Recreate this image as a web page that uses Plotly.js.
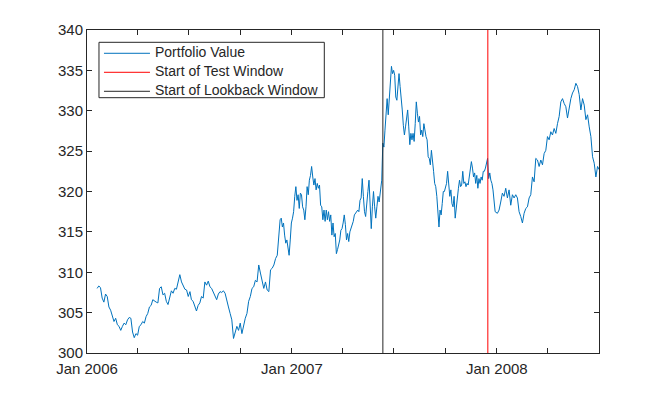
<!DOCTYPE html>
<html>
<head>
<meta charset="utf-8">
<script src="https://cdn.plot.ly/plotly-3.0.1.min.js"></script>
<style>html,body{margin:0;padding:0;background:#fff;}#chart{width:661px;height:398px;}</style>
</head>
<body>
<div id="chart"></div>
<script>
// ---- Data ----
// Portfolio value, stored in consecutive segments: each segment has a start date,
// a sampling step in days, and the sampled values.
const segAStart = '2006-01-19', segAStep = 3.007;
const segAValues = [308.0,308.3,308.1,306.8,306.3,307.3,307.0,305.7,305.3,304.7,303.9,304.3,303.5,303.3,302.8,303.3,303.7,303.5,304.1,304.4,304.3,302.6,301.9,302.4,302.2,303.3,303.5,303.9,303.7,304.5,304.9,305.7,305.9,306.6,306.4,306.3,306.2,308.0,308.2,307.2,307.4,306.4,306.0,306.8,307.7,307.4,308.0,307.9,309.0,309.7,308.8,308.3,307.9,307.8,307.0,307.6];

const segBStart = '2006-07-06', segBStep = 2.998;
const segBValues = [306.6,306.4,305.9,305.2,305.9,306.2,307.0,306.8,308.8,308.4,308.9,308.2,308.0,307.6,307.0,306.6,307.3,307.6,307.5,307.7,307.4,306.4,305.7,304.9,304.1,301.8,302.6,303.3,302.8,303.7,302.4,303.5,304.3,304.9,306.4,307.0,308.0,308.2,309.0,308.8,310.9,309.9,308.8,308.0,308.8,307.8,307.6,310.3,310.5,310.9,311.7,312.1];

const segCStart = '2006-12-11', segCStep = 2.004;
const segCValues = [316.5,316.7,315.6,316.1,314.6,313.6,314.0,312.8,312.1,314.0,316.1,316.7,317.5,319.4,320.6,318.9,319.6,317.9,319.8,319.6,318.1,317.7,316.5,318.1,320.6,319.6,321.4,322.0,323.1,321.8,320.8,321.6,320.2,321.0,320.4,320.8,318.3,318.1,316.5,317.7,316.3,317.7,316.5,317.5,316.3,317.1,314.6,316.1,314.4,314.8,312.3,312.8,313.4,314.0,315.2,315.4,316.1,317.1,315.9,314.0,314.8,313.8,315.0,315.4,315.9,316.3,317.1,317.3,317.5,317.7,317.5,318.9,319.2,321.6,319.4,317.5,316.9,318.1,320.0,321.4,317.5,315.4,318.1,320.0,318.1,316.7,318.1,319.4,318.7,319.6];

const segDStart = '2007-06-10', segDStep = 1.924;
const segDValues = [321.4,326.0,325.5,327.6,329.3,331.5,329.5,331.3,333.8,335.5,334.6,335.0,334.4,331.7,331.3,333.2,334.6,333.0,330.9,330.1,328.2,327.0,328.0,329.3,330.1,328.0,325.8,327.2,326.4,327.2,326.2,328.4,331.1,329.7,328.6,329.3,327.0,327.6,326.8,328.4,327.4,326.8,326.4,324.3,324.1,323.3,325.1,324.1,322.5,321.0,320.6,319.4,317.3,315.6,317.7,317.1,318.5,320.0,320.0,320.4,321.0,322.5,320.6,319.4,320.2,318.5,318.1,319.4,316.7,318.1,319.8,320.4,321.4,320.6,320.8,322.5,321.0,321.2,320.6,321.0,320.8,322.0,322.7,323.7,322.9,321.8,322.3,321.0,322.0,320.4,321.6,321.0,321.8,321.4,322.5,322.5,322.9,323.5,324.1,321.6,322.3,321.4,321.0,320.2,318.5,317.5];

const segEStart = '2008-01-02', segEStep = 2.974;
const segEValues = [317.3,317.7,318.7,319.8,319.4,320.4,319.2,320.2,318.3,319.6,319.2,319.6,319.2,317.5,316.9,316.1,317.3,317.9,318.1,319.2,319.6,321.8,321.2,324.1,323.9,323.1,323.9,323.3,324.7,325.1,326.8,326.4,327.4,327.0,327.8,327.2,328.4,329.3,331.1,331.5,330.9,330.5,329.1,330.5,331.5,332.2,332.6,333.4,333.0,332.0,330.1,331.5,330.7,328.9,329.5,328.0,326.8,324.3,323.5,321.8,323.1,322.7];

const testStartDate = '2007-12-16';
const lookbackStartDate = '2007-06-12';

const seriesNames = ['Portfolio Value', 'Start of Test Window', 'Start of Lookback Window'];
const yRange = [300, 340];
const xRange = ['2006-01-01', '2008-07-01'];
const xTickVals = ['2006-01-01','2006-04-01','2006-07-01','2006-10-01','2007-01-01','2007-04-01','2007-07-01','2007-10-01','2008-01-01','2008-04-01','2008-07-01'];
const xTickText = ['Jan 2006','','','','Jan 2007','','','','Jan 2008','',''];

// ---- Build series ----
const DAY = 86400000;
function buildSeg(start, step, vals, xs, ys) {
  const t0 = Date.parse(start + 'T00:00:00Z');
  vals.forEach((v, i) => {
    const d = new Date(t0 + Math.round(i * step * DAY));
    xs.push(d.toISOString().slice(0, 19).replace('T', ' '));
    ys.push(v);
  });
}
const px = [], py = [];
buildSeg(segAStart, segAStep, segAValues, px, py);
buildSeg(segBStart, segBStep, segBValues, px, py);
buildSeg(segCStart, segCStep, segCValues, px, py);
buildSeg(segDStart, segDStep, segDValues, px, py);
buildSeg(segEStart, segEStep, segEValues, px, py);

const axisColor = '#262626';
const fontFam = '"Liberation Sans", Arial, Helvetica, sans-serif';
const legName = s => '<span style="font-size:14px">' + s + '</span>';

const traces = [
  {x: px, y: py, type: 'scatter', mode: 'lines', name: legName(seriesNames[0]),
   line: {color: '#0072BD', width: 1}},
  {x: [testStartDate, testStartDate], y: yRange, type: 'scatter', mode: 'lines', name: legName(seriesNames[1]),
   line: {color: '#FF0000', width: 1}},
  {x: [lookbackStartDate, lookbackStartDate], y: yRange, type: 'scatter', mode: 'lines', name: legName(seriesNames[2]),
   line: {color: '#262626', width: 1}}
];

const layout = {
  width: 661, height: 398,
  margin: {l: 87, r: 62, t: 30, b: 45, pad: 0},
  paper_bgcolor: '#fff', plot_bgcolor: '#fff',
  font: {family: fontFam, size: 15, color: axisColor},
  showlegend: true,
  legend: {x: 0.0234, y: 0.9728, xanchor: 'left', yanchor: 'top',
    bgcolor: 'rgba(0,0,0,0)', borderwidth: 0,
    font: {family: fontFam, size: 10.5, color: axisColor},
    itemwidth: 46, tracegroupgap: 0},
  // legend frame (MATLAB-style box)
  shapes: [{type: 'rect', xref: 'paper', yref: 'paper', x0: 0.0234, x1: 0.4635, y0: 0.7904, y1: 0.9619,
    layer: 'above', fillcolor: '#fff', line: {color: axisColor, width: 1}}],
  xaxis: {type: 'date', range: xRange, tickmode: 'array', tickvals: xTickVals, ticktext: xTickText,
    showgrid: false, zeroline: false, showline: true, linecolor: axisColor, linewidth: 1,
    mirror: 'ticks', ticks: 'inside', ticklen: 5, tickcolor: axisColor, tickwidth: 1,
    ticklabelstandoff: 2,
    tickfont: {family: fontFam, size: 15, color: axisColor}},
  yaxis: {range: yRange, tickmode: 'linear', tick0: 300, dtick: 5,
    showgrid: false, zeroline: false, showline: true, linecolor: axisColor, linewidth: 1,
    mirror: 'ticks', ticks: 'inside', ticklen: 5, tickcolor: axisColor, tickwidth: 1,
    tickfont: {family: fontFam, size: 15, color: axisColor}}
};

Plotly.newPlot('chart', traces, layout, {displayModeBar: false, staticPlot: true});
</script>
</body>
</html>
